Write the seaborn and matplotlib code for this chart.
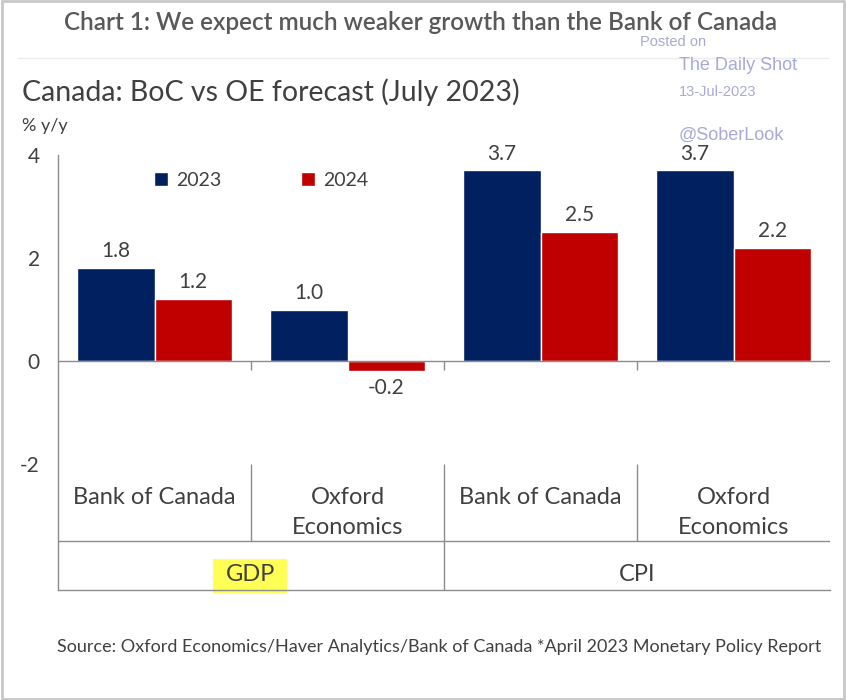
import pandas as pd
import matplotlib.pyplot as plt
import seaborn as sns
from matplotlib.patches import Rectangle, Patch
from matplotlib.lines import Line2D

# data
measures = ["GDP", "GDP", "CPI", "CPI"]
forecasters = ["Bank of Canada", "Oxford\nEconomics", "Bank of Canada", "Oxford\nEconomics"]
values_2023 = [1.8, 1.0, 3.7, 3.7]
values_2024 = [1.2, -0.2, 2.5, 2.2]
years = ["2023", "2024"]
y_ticks = [-2, 0, 2, 4]

navy = "#002060"
red = "#C00000"
grey_txt = "#404040"
line_col = "#8c8c8c"

keys = [m + " " + f for m, f in zip(measures, forecasters)]
df = pd.DataFrame({
    "key": keys * 2,
    "year": [years[0]] * 4 + [years[1]] * 4,
    "value": values_2023 + values_2024,
})

sns.set_style("white")
plt.rcParams["font.family"] = ["Lato", "DejaVu Sans"]

W, H = 846, 700
fig = plt.figure(figsize=(W / 100, H / 100), dpi=100)


def fx(px):
    return px / W


def fy(py):
    return 1 - py / H


ax = fig.add_axes([fx(58), fy(590), fx(830) - fx(58), fy(155) - fy(590)])
sns.barplot(data=df, x="key", y="value", hue="year", palette=[navy, red],
            saturation=1, width=0.8, ax=ax, legend=False)

ymin = 4 - 435 / 51.5
ax.set_ylim(ymin, 4)
ax.set_xlim(-0.5, 3.5)
ax.set_yticks(y_ticks)
ax.set_yticklabels([str(t) for t in y_ticks], fontsize=15, color=grey_txt)
ax.set_xticks([])
ax.set_xlabel("")
ax.set_ylabel("")
ax.tick_params(axis="y", length=5, color=line_col, width=1, pad=8)
for s in ["top", "right"]:
    ax.spines[s].set_visible(False)
for s in ["left", "bottom"]:
    ax.spines[s].set_color(line_col)
    ax.spines[s].set_linewidth(1)

for c in ax.containers:
    ax.bar_label(c, fmt="%.1f", padding=5, fontsize=15, color=grey_txt)

# zero line and category table
ax.axhline(0, color=line_col, lw=1)
ax.vlines([0.5, 1.5, 2.5], 0, -0.18, color=line_col, lw=1)
ax.vlines([0.5, 2.5], -2, -3.5, color=line_col, lw=1)
ax.vlines([1.5], -2, ymin, color=line_col, lw=1)
ax.hlines([-3.5], -0.5, 3.5, color=line_col, lw=1)

for i, f in enumerate(forecasters):
    ax.text(i, -2.45, f, ha="center", va="top", fontsize=17, color=grey_txt,
            linespacing=1.5)

ax.text(0.5, -4.155, "GDP", ha="center", va="center", fontsize=17, color=grey_txt, zorder=5)
ax.text(2.5, -4.155, "CPI", ha="center", va="center", fontsize=17, color=grey_txt, zorder=5)
ax.add_patch(Rectangle((fx(213), fy(593)), fx(287) - fx(213), fy(559) - fy(593),
                       transform=fig.transFigure, facecolor="#FFFF55",
                       edgecolor="none", zorder=1, clip_on=False))

# legend
handles = [Patch(facecolor=navy, label="2023"), Patch(facecolor=red, label="2024")]
fig.legend(handles=handles, loc="center left", bbox_to_anchor=(fx(136), fy(180)),
           ncol=2, frameon=False, fontsize=14, handlelength=0.75, handleheight=0.75,
           handletextpad=0.4, columnspacing=4.1, labelcolor=grey_txt)

# titles
fig.text(fx(421), fy(22), "Chart 1: We expect much weaker growth than the Bank of Canada",
         ha="center", va="center", fontsize=17.5, fontweight="semibold", color="#595959")
fig.lines.append(Line2D([fx(18), fx(828)], [fy(58), fy(58)], transform=fig.transFigure,
                        color="#ececec", lw=1))
fig.text(fx(22), fy(92), "Canada: BoC vs OE forecast (July 2023)", ha="left", va="center",
         fontsize=20.5, color=grey_txt)
fig.text(fx(22), fy(126), "% y/y", ha="left", va="center", fontsize=13, color=grey_txt)

# watermark
wm = "#a9a9d6"
fig.text(fx(640), fy(42), "Posted on", fontsize=10.5, color=wm, ha="left", va="center",
         family="Liberation Sans")
fig.text(fx(679), fy(65), "The Daily Shot", fontsize=13, color=wm, ha="left", va="center",
         family="Liberation Sans")
fig.text(fx(679), fy(92), "13-Jul-2023", fontsize=10.5, color=wm, ha="left", va="center",
         family="Liberation Sans")
fig.text(fx(679), fy(135), "@SoberLook", fontsize=13, color=wm, ha="left", va="center",
         family="Liberation Sans")

# source
fig.text(fx(57), fy(647),
         "Source: Oxford Economics/Haver Analytics/Bank of Canada *April 2023 Monetary Policy Report",
         ha="left", va="center", fontsize=13, color=grey_txt)

# outer border
fig.patches.append(Rectangle((0.002, 0.002), 0.996, 0.996, transform=fig.transFigure,
                             facecolor="none", edgecolor="#c8c8c8", lw=2))

fig.savefig("out.png", dpi=100)
